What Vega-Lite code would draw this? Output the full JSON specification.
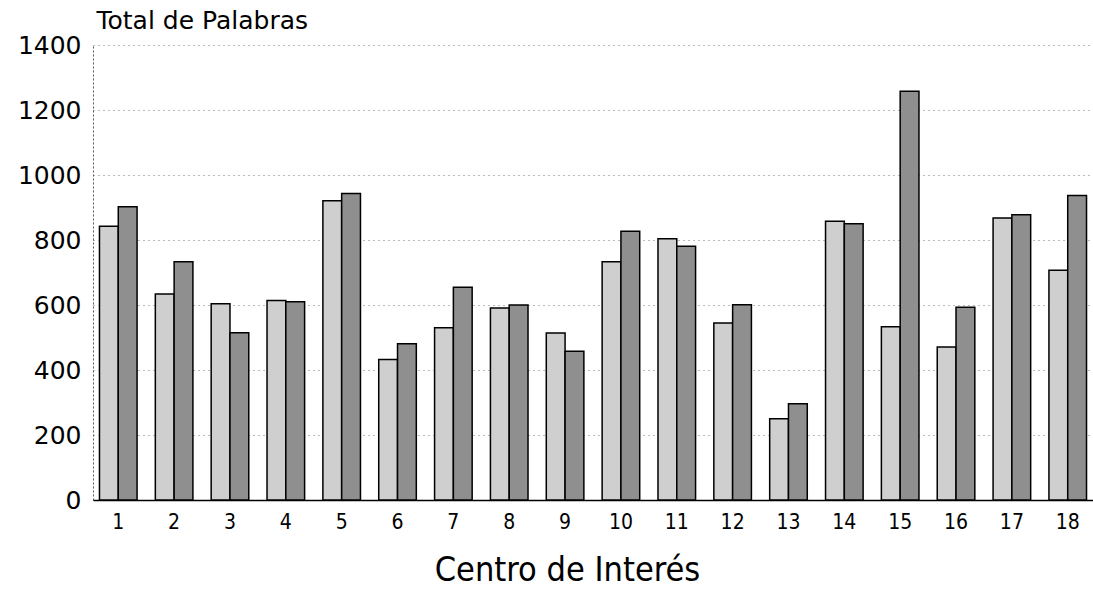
{
  "$schema": "https://vega.github.io/schema/vega-lite/v6.json",
  "autosize": {"type": "none"},
  "padding": {"left": 93, "top": 45, "right": 0, "bottom": 90},
  "width": 1000,
  "height": 455,
  "background": "white",
  "data": {
    "values": [
      {"centro": 1, "serie": "A", "palabras": 842}, {"centro": 1, "serie": "B", "palabras": 902},
      {"centro": 2, "serie": "A", "palabras": 634}, {"centro": 2, "serie": "B", "palabras": 733},
      {"centro": 3, "serie": "A", "palabras": 604}, {"centro": 3, "serie": "B", "palabras": 515},
      {"centro": 4, "serie": "A", "palabras": 614}, {"centro": 4, "serie": "B", "palabras": 610},
      {"centro": 5, "serie": "A", "palabras": 921}, {"centro": 5, "serie": "B", "palabras": 943},
      {"centro": 6, "serie": "A", "palabras": 432}, {"centro": 6, "serie": "B", "palabras": 481},
      {"centro": 7, "serie": "A", "palabras": 530}, {"centro": 7, "serie": "B", "palabras": 655},
      {"centro": 8, "serie": "A", "palabras": 591}, {"centro": 8, "serie": "B", "palabras": 600},
      {"centro": 9, "serie": "A", "palabras": 514}, {"centro": 9, "serie": "B", "palabras": 458},
      {"centro": 10, "serie": "A", "palabras": 733}, {"centro": 10, "serie": "B", "palabras": 827},
      {"centro": 11, "serie": "A", "palabras": 804}, {"centro": 11, "serie": "B", "palabras": 781},
      {"centro": 12, "serie": "A", "palabras": 545}, {"centro": 12, "serie": "B", "palabras": 601},
      {"centro": 13, "serie": "A", "palabras": 250}, {"centro": 13, "serie": "B", "palabras": 296},
      {"centro": 14, "serie": "A", "palabras": 858}, {"centro": 14, "serie": "B", "palabras": 850},
      {"centro": 15, "serie": "A", "palabras": 533}, {"centro": 15, "serie": "B", "palabras": 1258},
      {"centro": 16, "serie": "A", "palabras": 471}, {"centro": 16, "serie": "B", "palabras": 593},
      {"centro": 17, "serie": "A", "palabras": 868}, {"centro": 17, "serie": "B", "palabras": 878},
      {"centro": 18, "serie": "A", "palabras": 707}, {"centro": 18, "serie": "B", "palabras": 937}
    ]
  },
  "mark": {"type": "bar", "stroke": "black", "strokeWidth": 1.5, "opacity": 1},
  "encoding": {
    "x": {
      "field": "centro",
      "type": "ordinal",
      "scale": {"paddingInner": 0.327, "paddingOuter": 0.116},
      "axis": {
        "title": "Centro de Interés",
        "titleFont": "Liberation Sans Narrow, DejaVu Sans Condensed, Liberation Sans",
        "titleFontSize": 34,
        "titleFontWeight": "normal",
        "titleColor": "black",
        "titleX": 474,
        "titleY": 80,
        "titleAlign": "center",
        "titleBaseline": "alphabetic",
        "labelAngle": 0,
        "labelFont": "Liberation Sans Narrow, DejaVu Sans Condensed, Liberation Sans",
        "labelFontSize": 21,
        "labelColor": "black",
        "labelPadding": 11,
        "ticks": false,
        "domainColor": "black",
        "domainWidth": 1.5,
        "grid": false
      }
    },
    "xOffset": {"field": "serie", "type": "nominal", "scale": {"paddingInner": 0, "paddingOuter": 0}},
    "y": {
      "field": "palabras",
      "type": "quantitative",
      "scale": {"domain": [0, 1400], "nice": false},
      "axis": {
        "values": [0, 200, 400, 600, 800, 1000, 1200, 1400],
        "format": "d",
        "title": "Total de Palabras",
        "titleAngle": 0,
        "titleX": 3,
        "titleY": -17,
        "titleAlign": "left",
        "titleBaseline": "alphabetic",
        "titleFont": "DejaVu Sans",
        "titleFontSize": 25,
        "titleFontWeight": "normal",
        "titleColor": "black",
        "labelFont": "DejaVu Sans",
        "labelFontSize": 25,
        "labelColor": "black",
        "labelPadding": 12,
        "tickSize": 0,
        "domainColor": "#555",
        "domainDash": [2, 2],
        "grid": true,
        "gridColor": "#777",
        "gridDash": [1, 4],
        "gridWidth": 1
      }
    },
    "fill": {
      "field": "serie",
      "type": "nominal",
      "scale": {"domain": ["A", "B"], "range": ["#cfcfcf", "#8f8f8f"]},
      "legend": null
    }
  },
  "config": {"view": {"stroke": null}}
}
